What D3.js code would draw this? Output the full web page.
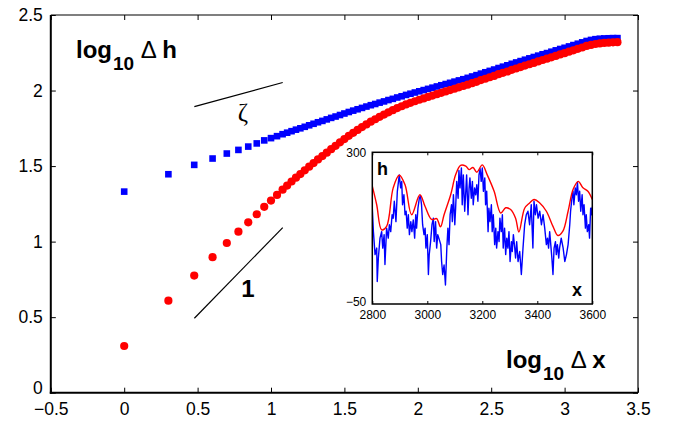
<!DOCTYPE html>
<html>
<head>
<meta charset="utf-8">
<script src="https://cdn.jsdelivr.net/npm/d3@7"></script>
<style>
  body { margin: 0; background: #fff; }
  svg { display: block; }
  text { font-family: "Liberation Sans", Arial, Helvetica, sans-serif; fill: #000; }
</style>
</head>
<body>
<svg id="chart" width="673" height="421"></svg>
<script>
// ---- main panel data: log10 of the separation and the two height-difference curves ----
const logDx = [
  0, 0.301, 0.477, 0.602, 0.699, 0.778, 0.845, 0.903, 0.954, 1.000, 1.041, 1.079,
  1.11, 1.14, 1.17, 1.20, 1.23, 1.26, 1.29, 1.32, 1.35, 1.38, 1.41, 1.44, 1.47, 1.50,
  1.53, 1.56, 1.59, 1.62, 1.65, 1.68, 1.71, 1.74, 1.77, 1.80, 1.83, 1.86, 1.89, 1.92,
  1.95, 1.98, 2.01, 2.04, 2.07, 2.10, 2.13, 2.16, 2.19, 2.22, 2.25, 2.28, 2.31, 2.34,
  2.37, 2.40, 2.43, 2.46, 2.49, 2.52, 2.55, 2.58, 2.61, 2.64, 2.67, 2.70, 2.73, 2.76,
  2.79, 2.82, 2.85, 2.88, 2.91, 2.94, 2.97, 3.00, 3.03, 3.06, 3.09, 3.12, 3.15, 3.18,
  3.21, 3.24, 3.27, 3.30, 3.33, 3.36
];
// rough profile (blue squares)
const logDhRough = [
  1.331, 1.446, 1.508, 1.550, 1.583, 1.607, 1.629, 1.650, 1.670, 1.685, 1.698, 1.711,
  1.721, 1.731, 1.741, 1.750, 1.760, 1.770, 1.780, 1.790, 1.799, 1.809, 1.819, 1.828, 1.838, 1.848,
  1.858, 1.867, 1.876, 1.885, 1.894, 1.903, 1.911, 1.920, 1.928, 1.937, 1.945, 1.954, 1.962, 1.971,
  1.979, 1.987, 1.995, 2.003, 2.011, 2.019, 2.027, 2.035, 2.043, 2.051, 2.059, 2.067, 2.075, 2.084,
  2.093, 2.102, 2.112, 2.121, 2.130, 2.139, 2.149, 2.158, 2.167, 2.177, 2.186, 2.195, 2.204, 2.213,
  2.222, 2.231, 2.240, 2.248, 2.257, 2.266, 2.275, 2.283, 2.292, 2.301, 2.310, 2.319, 2.328, 2.335,
  2.340, 2.343, 2.345, 2.346, 2.347, 2.347
];
// envelope profile (red circles)
const logDhEnvelope = [
  0.309, 0.609, 0.775, 0.897, 0.991, 1.066, 1.128, 1.181, 1.230, 1.272, 1.309, 1.344,
  1.371, 1.398, 1.423, 1.447, 1.472, 1.496, 1.520, 1.544, 1.566, 1.589, 1.612, 1.634, 1.657, 1.679,
  1.700, 1.720, 1.739, 1.758, 1.776, 1.794, 1.810, 1.826, 1.841, 1.856, 1.870, 1.884, 1.896, 1.908,
  1.919, 1.929, 1.939, 1.948, 1.958, 1.967, 1.976, 1.985, 1.994, 2.003, 2.012, 2.021, 2.030, 2.039,
  2.049, 2.058, 2.069, 2.078, 2.088, 2.097, 2.108, 2.117, 2.126, 2.137, 2.146, 2.155, 2.165, 2.174,
  2.183, 2.193, 2.202, 2.211, 2.220, 2.229, 2.239, 2.247, 2.257, 2.266, 2.276, 2.285, 2.295, 2.302,
  2.308, 2.312, 2.315, 2.317, 2.319, 2.320
];
const xTicks = [-0.5, 0, 0.5, 1, 1.5, 2, 2.5, 3, 3.5];
const yTicks = [0, 0.5, 1, 1.5, 2, 2.5];

// reference slopes: [x0, y0, x1, y1]
const guideZeta = [0.478, 1.894, 1.080, 2.053];
const guideOne  = [0.478, 0.493, 1.080, 1.093];

// ---- inset data: a stretch of the profile h(x) and its upper envelope ----
const profileX = [
  2800, 2804, 2810, 2816, 2818, 2822, 2828, 2834, 2838, 2843, 2846, 2852, 2858, 2862, 2867, 2872,
  2876, 2880, 2886, 2891, 2896, 2898, 2903, 2907, 2910, 2915, 2919, 2923, 2927, 2931, 2935, 2940,
  2944, 2949, 2954, 2958, 2961, 2966, 2971, 2975, 2979, 2983, 2988, 2992, 2995, 3000, 3004, 3007,
  3012, 3017, 3022, 3025, 3030, 3034, 3038, 3042, 3049, 3052, 3056, 3061, 3066, 3071, 3075, 3079,
  3083, 3088, 3091, 3095, 3100, 3103, 3107, 3112, 3115, 3119, 3124, 3127, 3131, 3136, 3140, 3143,
  3148, 3152, 3155, 3160, 3164, 3167, 3172, 3176, 3180, 3184, 3188, 3192, 3196, 3200, 3204, 3209,
  3212, 3216, 3221, 3224, 3228, 3233, 3236, 3240, 3245, 3249, 3252, 3257, 3261, 3264, 3269, 3273,
  3276, 3281, 3285, 3289, 3293, 3297, 3301, 3306, 3309, 3313, 3318, 3321, 3325, 3330, 3336, 3342,
  3348, 3354, 3360, 3366, 3372, 3378, 3384, 3388, 3393, 3397, 3403, 3409, 3415, 3421, 3427, 3433,
  3437, 3441, 3445, 3449, 3453, 3457, 3461, 3466, 3469, 3473, 3478, 3481, 3487, 3494, 3500, 3506,
  3512, 3518, 3521, 3526, 3530, 3533, 3538, 3542, 3546, 3550, 3554, 3558, 3563, 3566, 3570, 3575,
  3578, 3582, 3587, 3590, 3594, 3597, 3600
];
const profileH = [
  171, 117, 64, 79, 2, 56, 102, 117, 79, 110, 41, 125, 102, 133, 117, 156,
  148, 187, 140, 210, 237, 248, 218, 233, 179, 202, 156, 164, 125, 156, 110, 140,
  117, 144, 102, 156, 125, 171, 194, 200, 179, 133, 110, 125, 79, 110, 18, 64,
  94, 133, 148, 94, 140, 79, 110, 102, 87, 48, 18, 40, -6, 79, 125, 87,
  156, 179, 140, 202, 133, 171, 233, 194, 258, 218, 264, 179, 248, 164, 210, 248,
  156, 218, 241, 194, 233, 179, 218, 202, 225, 187, 248, 262, 233, 264, 210, 241,
  179, 210, 117, 171, 140, 179, 117, 156, 87, 125, 79, 117, 94, 148, 117, 156,
  79, 125, 64, 102, 79, 117, 48, 94, 71, 110, 79, 56, 94, 48, 71, 18,
  79, 133, 156, 164, 133, 179, 79, 187, 156, 179, 148, 164, 133, 156, 125, 87,
  102, 79, 117, 87, 56, 18, 79, 94, 64, 87, 56, 79, 102, 79, 48, 64,
  87, 133, 164, 194, 210, 179, 218, 202, 231, 187, 210, 164, 202, 156, 179, 125,
  156, 117, 133, 102, 171, 156, 174
];
const envelopeX = [
  2800, 2816, 2834, 2852, 2876, 2898, 2919, 2943, 2973, 2992, 3016, 3034, 3048, 3061, 3085,
  3103, 3121, 3140, 3152, 3166, 3180, 3200, 3218, 3243, 3267, 3285, 3303, 3321, 3333, 3354,
  3372, 3388, 3409, 3433, 3457, 3475, 3493, 3512, 3530, 3549, 3566, 3584, 3600
];
const envelopeH = [
  222, 179, 121, 129, 218, 247, 225, 156, 202, 175, 145, 147, 128, 156, 202,
  248, 270, 268, 260, 265, 254, 271, 248, 210, 160, 172, 168, 148, 116, 171,
  183, 191, 183, 164, 129, 108, 118, 164, 214, 233, 218, 210, 191
];
const insetXTicks = [2800, 3000, 3200, 3400, 3600];
const insetYTicks = [-50, 300];

// ---- drawing ----
const svg = d3.select("#chart");
const BLUE = "#0000ff", RED = "#ff0000";
const fmt = d => (d < 0 ? "\u2212" + Math.abs(d) : String(d));

const x = d3.scaleLinear().domain([-0.5, 3.5]).range([50.8, 638]);
const y = d3.scaleLinear().domain([0, 2.5]).range([392.7, 15]);

// axes with inward ticks on all four sides
const axB = svg.append("g").attr("transform", `translate(0,${y(0)})`)
  .call(d3.axisBottom(x).tickValues(xTicks).tickFormat(fmt).tickSizeInner(-5).tickSizeOuter(0).tickPadding(10));
const axL = svg.append("g").attr("transform", `translate(${x(-0.5)},0)`)
  .call(d3.axisLeft(y).tickValues(yTicks).tickFormat(fmt).tickSizeInner(-5).tickSizeOuter(0).tickPadding(8));
const axT = svg.append("g").attr("transform", `translate(0,${y(2.5)})`)
  .call(d3.axisTop(x).tickValues(xTicks).tickFormat("").tickSizeInner(-5).tickSizeOuter(0));
const axR = svg.append("g").attr("transform", `translate(${x(3.5)},0)`)
  .call(d3.axisRight(y).tickValues(yTicks).tickFormat("").tickSizeInner(-5).tickSizeOuter(0));
[axB, axL, axT, axR].forEach(g => {
  g.select(".domain").remove();
  g.selectAll(".tick line").attr("stroke", "#000").attr("stroke-width", 1);
  g.selectAll(".tick text").style("font-size", "17.5px").attr("fill", "#000");
});
// the "0" on the value axis sits just above the corner
axL.selectAll(".tick text").filter(d => d === 0).attr("dy", "0.05em");

// frame: heavier left and bottom spines
const frame = svg.append("g").attr("stroke", "#000").attr("fill", "none");
frame.append("line").attr("x1", x(-0.5)).attr("x2", x(3.5)).attr("y1", y(2.5)).attr("y2", y(2.5)).attr("stroke-width", 1.2);
frame.append("line").attr("x1", x(3.5)).attr("x2", x(3.5)).attr("y1", y(2.5)).attr("y2", y(0)).attr("stroke-width", 1.2);
frame.append("line").attr("x1", x(-0.5)).attr("x2", x(-0.5)).attr("y1", y(2.5)).attr("y2", y(0) + 1).attr("stroke-width", 2);
frame.append("line").attr("x1", x(-0.5) - 1).attr("x2", x(3.5)).attr("y1", y(0)).attr("y2", y(0)).attr("stroke-width", 2);

// reference slope lines
svg.append("g").attr("stroke", "#000").attr("stroke-width", 1.2)
  .selectAll("line").data([guideZeta, guideOne]).join("line")
  .attr("x1", d => x(d[0])).attr("y1", d => y(d[1]))
  .attr("x2", d => x(d[2])).attr("y2", d => y(d[3]));

// blue squares (rough profile)
const sq = 6.6;
svg.append("g").attr("fill", BLUE)
  .selectAll("rect").data(logDx).join("rect")
  .attr("x", (d) => x(d) - sq / 2)
  .attr("y", (d, i) => y(logDhRough[i]) - sq / 2)
  .attr("width", sq).attr("height", sq);

// red circles (envelope)
svg.append("g").attr("fill", RED)
  .selectAll("circle").data(logDx).join("circle")
  .attr("cx", d => x(d))
  .attr("cy", (d, i) => y(logDhEnvelope[i]))
  .attr("r", 4.1);

// axis captions
function caption(px, py, last) {
  const t = svg.append("text").attr("x", px).attr("y", py).style("font-size", "24px");
  t.append("tspan").text("log").attr("font-weight", "bold");
  t.append("tspan").text("10").attr("font-weight", "bold").style("font-size", "19px").attr("dy", 12).attr("dx", 1);
  t.append("tspan").text(" \u0394 ").attr("dy", -12);
  t.append("tspan").text(last).attr("font-weight", "bold");
}
caption(76, 58, "h");
caption(506, 368, "x");

svg.append("text").attr("x", 243).attr("y", 121).attr("text-anchor", "middle")
  .style("font-family", "'Liberation Serif', 'DejaVu Serif', serif").style("font-size", "25px").text("\u03B6");
svg.append("text").attr("x", 248).attr("y", 297).attr("text-anchor", "middle")
  .attr("font-weight", "bold").style("font-size", "24px").text("1");

// ---- inset ----
const ix = d3.scaleLinear().domain([2800, 3600]).range([372.3, 592.3]);
const iy = d3.scaleLinear().domain([-50, 300]).range([304, 152.3]);
const inset = svg.append("g");
inset.append("rect").attr("x", ix(2800)).attr("y", iy(300))
  .attr("width", ix(3600) - ix(2800)).attr("height", iy(-50) - iy(300)).attr("fill", "#fff");
inset.append("clipPath").attr("id", "insetClip").append("rect")
  .attr("x", ix(2800)).attr("y", iy(300))
  .attr("width", ix(3600) - ix(2800)).attr("height", iy(-50) - iy(300));

const plot = inset.append("g").attr("clip-path", "url(#insetClip)");
plot.append("path")
  .attr("d", d3.line().x(d => ix(d)).y((d, i) => iy(profileH[i]))(profileX))
  .attr("fill", "none").attr("stroke", BLUE).attr("stroke-width", 1.4).attr("stroke-linejoin", "round");
plot.append("path")
  .attr("d", d3.line().curve(d3.curveCatmullRom.alpha(0.5)).x(d => ix(d)).y((d, i) => iy(envelopeH[i]))(envelopeX))
  .attr("fill", "none").attr("stroke", RED).attr("stroke-width", 1.4);

const iB = inset.append("g").attr("transform", `translate(0,${iy(-50)})`)
  .call(d3.axisBottom(ix).tickValues(insetXTicks).tickFormat(d3.format("d")).tickSizeInner(-3).tickSizeOuter(0).tickPadding(6));
const iT = inset.append("g").attr("transform", `translate(0,${iy(300)})`)
  .call(d3.axisTop(ix).tickValues(insetXTicks).tickFormat("").tickSizeInner(-3).tickSizeOuter(0));
const iL = inset.append("g").attr("transform", `translate(${ix(2800)},0)`)
  .call(d3.axisLeft(iy).tickValues(insetYTicks).tickFormat(fmt).tickSize(0).tickPadding(6));
[iB, iT, iL].forEach(g => {
  g.select(".domain").remove();
  g.selectAll(".tick line").attr("stroke", "#000");
  g.selectAll(".tick text").style("font-size", "12px").attr("fill", "#000");
});
// lift the lower value label clear of the first position label
iL.selectAll(".tick text").filter(d => d === -50).attr("dy", "0.1em");
inset.append("rect").attr("x", ix(2800)).attr("y", iy(300))
  .attr("width", ix(3600) - ix(2800)).attr("height", iy(-50) - iy(300))
  .attr("fill", "none").attr("stroke", "#000").attr("stroke-width", 1.5);

inset.append("text").attr("x", 377).attr("y", 175).attr("font-weight", "bold").style("font-size", "18px").text("h");
inset.append("text").attr("x", 572).attr("y", 296).attr("font-weight", "bold").style("font-size", "18px").text("x");
</script>
</body>
</html>
